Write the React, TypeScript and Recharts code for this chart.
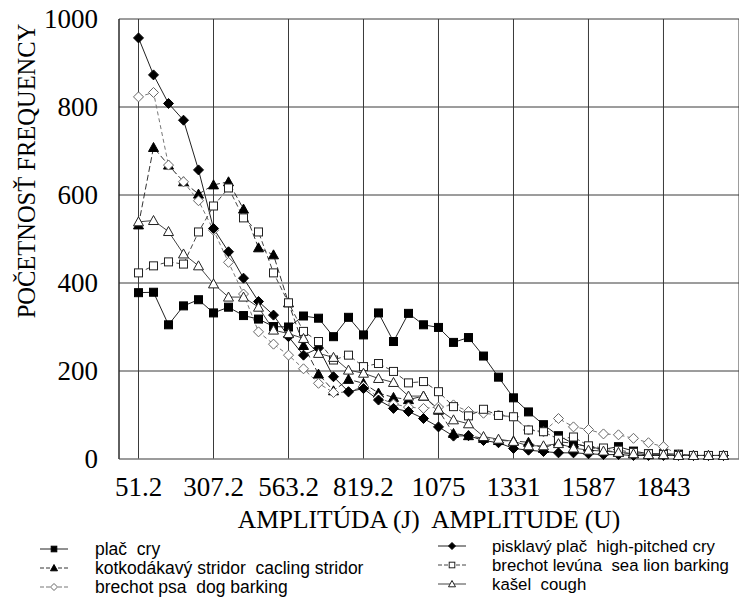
import React from 'react'
import { LineChart, Line, XAxis, YAxis, CartesianGrid } from 'recharts'

const amplitude = [
  51.2, 102.4, 153.6, 204.8, 256, 307.2, 358.4, 409.6, 460.8, 512,
  563.2, 614.4, 665.6, 716.8, 768, 819.2, 870.4, 921.6, 972.8, 1024,
  1075.2, 1126.4, 1177.6, 1228.8, 1280, 1331.2, 1382.4, 1433.6, 1484.8, 1536,
  1587.2, 1638.4, 1689.6, 1740.8, 1792, 1843.2, 1894.4, 1945.6, 1996.8, 2048,
]

const cry = [
  378, 379, 305, 348, 362, 332, 345, 326, 318, 301,
  300, 325, 320, 278, 322, 282, 332, 267, 331, 305,
  299, 265, 276, 234, 186, 139, 107, 78, 53, 35,
  28, 22, 28, 18, 12, 12, 11, 8, 8, 8,
]
const highPitched = [
  957, 873, 808, 770, 657, 524, 471, 411, 358, 327,
  278, 236, 252, 187, 153, 160, 134, 115, 108, 92,
  73, 52, 53, 42, 37, 24, 20, 17, 14, 14,
  12, 10, 10, 8, 8, 8, 8, 8, 8, 8,
]
const stridor = [
  532, 708, 668, 630, 602, 623, 630, 568, 480, 464,
  355, 258, 193, 155, 181, 172, 150, 140, 135, 143,
  111, 58, 53, 47, 42, 41, 38, 24, 39, 36,
  27, 20, 15, 12, 10, 10, 8, 8, 8, 8,
]
const seaLion = [
  423, 439, 448, 443, 516, 575, 616, 548, 516, 423,
  355, 290, 267, 225, 236, 210, 217, 199, 173, 176,
  153, 119, 98, 113, 99, 96, 66, 62, 45, 50,
  30, 25, 20, 15, 12, 10, 8, 8, 8, 8,
]
const dogBarking = [
  823, 833, 668, 630, 587, 520, 447, 375, 289, 261,
  236, 205, 172, 151, 152, 165, 140, 125, 118, 115,
  118, 123, 108, 104, 100, 96, 66, 62, 92, 73,
  67, 57, 55, 47, 37, 28, 10, 8, 8, 8,
]
const cough = [
  539, 542, 517, 466, 439, 398, 368, 368, 345, 293,
  285, 274, 240, 231, 202, 195, 183, 174, 143, 143,
  113, 89, 80, 51, 45, 40, 30, 30, 35, 25,
  20, 18, 15, 12, 10, 10, 8, 8, 8, 8,
]

const xTicks = [51.2, 307.2, 563.2, 819.2, 1075.2, 1331.2, 1587.2, 1843.2]
const xTickLabels = ['51.2', '307.2', '563.2', '819.2', '1075', '1331', '1587', '1843']
const yTicks = [0, 200, 400, 600, 800, 1000]

const data = amplitude.map((a, i) => ({
  amp: a,
  cry: cry[i],
  highPitched: highPitched[i],
  stridor: stridor[i],
  seaLion: seaLion[i],
  dogBarking: dogBarking[i],
  cough: cough[i],
}))

type Shape = 'square' | 'diamond' | 'triangle'

function marker(shape: Shape, filled: boolean, cx: number, cy: number, stroke: string, s = 1) {
  const fill = filled ? '#000' : '#fff'
  if (shape === 'square') {
    return <rect x={cx - 4 * s} y={cy - 4 * s} width={8 * s} height={8 * s} fill={fill} stroke={stroke} strokeWidth={1} />
  }
  const r = 5 * s
  if (shape === 'diamond') {
    return <polygon points={`${cx},${cy - r} ${cx + r},${cy} ${cx},${cy + r} ${cx - r},${cy}`} fill={fill} stroke={stroke} strokeWidth={1} />
  }
  return <polygon points={`${cx},${cy - r} ${cx + r},${cy + r * 0.8} ${cx - r},${cy + r * 0.8}`} fill={fill} stroke={stroke} strokeWidth={1} />
}

const series = [
  { key: 'cry', name: 'plač  cry', shape: 'square' as Shape, filled: true, dash: undefined, line: '#222', mark: '#000', col: 0 },
  { key: 'stridor', name: 'kotkodákavý stridor  cacling stridor', shape: 'triangle' as Shape, filled: true, dash: '6 3', line: '#333', mark: '#000', col: 0 },
  { key: 'dogBarking', name: 'brechot psa  dog barking', shape: 'diamond' as Shape, filled: false, dash: '4 3', line: '#777', mark: '#666', col: 0 },
  { key: 'highPitched', name: 'pisklavý plač  high-pitched cry', shape: 'diamond' as Shape, filled: true, dash: undefined, line: '#222', mark: '#000', col: 1 },
  { key: 'seaLion', name: 'brechot levúna  sea lion barking', shape: 'square' as Shape, filled: false, dash: '5 3', line: '#444', mark: '#222', col: 1 },
  { key: 'cough', name: 'kašel  cough', shape: 'triangle' as Shape, filled: false, dash: undefined, line: '#444', mark: '#222', col: 1 },
]

const serif = 'Liberation Serif'
const sans = 'Liberation Sans'

const XTick = ({ x, y, payload }: any) => (
  <text x={x} y={y} dy="0.71em" textAnchor="middle" fontFamily={serif} fontSize={27} fill="#000">
    {xTickLabels[xTicks.indexOf(payload.value)] ?? ''}
  </text>
)

const YTick = ({ x, y, payload }: any) => (
  <text x={x} y={y} dy="0.35em" textAnchor="end" fontFamily={serif} fontSize={27} fill="#000">
    {payload.value}
  </text>
)

export default function App() {
  return (
    <div style={{ position: 'absolute', left: 0, top: 0, width: 739, height: 597, background: '#fff' }}>
      <LineChart width={739} height={597} data={data} margin={{ top: 19, right: 0, bottom: 98, left: 0 }}>
        <CartesianGrid stroke="#3a3a3a" strokeWidth={1} />
        <XAxis
          dataKey="amp"
          type="number"
          domain={[-15.4, 2101]}
          ticks={xTicks}
          height={40}
          tickLine={false}
          tickMargin={12}
          axisLine={{ stroke: '#999' }}
          tick={<XTick />}
          allowDataOverflow
        />
        <YAxis
          domain={[0, 1000]}
          ticks={yTicks}
          width={119}
          tickLine={false}
          tickMargin={15}
          axisLine={{ stroke: '#222' }}
          tick={<YTick />}
        />
        {series.map((s) => (
          <Line
            key={s.key}
            dataKey={s.key}
            stroke={s.line}
            strokeWidth={1}
            strokeDasharray={s.dash}
            isAnimationActive={false}
            dot={(p: any) => <g key={`${s.key}-${p.index}`}>{marker(s.shape, s.filled, p.cx, p.cy, s.mark)}</g>}
            activeDot={false}
          />
        ))}
      </LineChart>
      <svg width={739} height={597} style={{ position: 'absolute', left: 0, top: 0, pointerEvents: 'none' }}>
        <text x={26} y={171} transform="rotate(-90 26 171)" textAnchor="middle" dominantBaseline="central" fontFamily={serif} fontSize={24.5} fill="#000">
          POČETNOSŤ FREQUENCY
        </text>
        <text x={429} y={528} textAnchor="middle" fontFamily={serif} fontSize={25.5} fill="#000" style={{ whiteSpace: 'pre' }}>
          AMPLITÚDA (J)  AMPLITUDE (U)
        </text>
        {series.map((s, i) => {
          const row = i % 3
          const x0 = s.col === 0 ? 40 : 438
          const y = (s.col === 0 ? 549 : 546) + row * 19
          return (
            <g key={s.key}>
              <line x1={x0} y1={y} x2={x0 + 28} y2={y} stroke={s.line} strokeWidth={1} strokeDasharray={s.dash ? '4 2' : undefined} />
              {marker(s.shape, s.filled, x0 + 14, y, s.mark, 0.7)}
              <text x={x0 + (s.col === 0 ? 55 : 54)} y={y} dominantBaseline="central" fontFamily={sans} fontSize={s.col === 0 ? 17.5 : 16.8} fill="#000" style={{ whiteSpace: 'pre' }}>
                {s.name}
              </text>
            </g>
          )
        })}
      </svg>
    </div>
  )
}
